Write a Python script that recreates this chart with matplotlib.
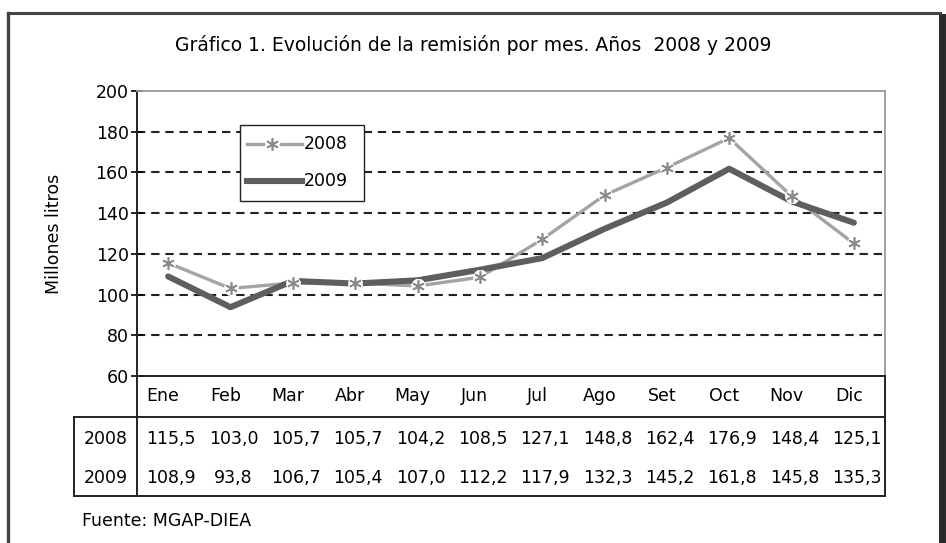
import matplotlib
matplotlib.use("Agg")
import matplotlib.pyplot as plt
from matplotlib.lines import Line2D
from matplotlib.patches import Rectangle
import matplotlib.transforms as mtransforms

plt.rcParams['font.family'] = ['DejaVu Sans']

months = ["Ene", "Feb", "Mar", "Abr", "May", "Jun", "Jul", "Ago", "Set", "Oct", "Nov", "Dic"]
v2008 = [115.5, 103.0, 105.7, 105.7, 104.2, 108.5, 127.1, 148.8, 162.4, 176.9, 148.4, 125.1]
v2009 = [108.9, 93.8, 106.7, 105.4, 107.0, 112.2, 117.9, 132.3, 145.2, 161.8, 145.8, 135.3]
series_names = ["2008", "2009"]
yticks = [60, 80, 100, 120, 140, 160, 180, 200]
title = "Gráfico 1. Evolución de la remisión por mes. Años  2008 y 2009"
ylabel = "Millones litros"
source = "Fuente: MGAP-DIEA"

W, H = 946, 543
fig = plt.figure(figsize=(W / 100, H / 100), dpi=100)

def fx(px):
    return px / W

def fy(py):
    return 1 - py / H

FS = 12.5

# plot area in pixels
L, R, T, B = 137, 885, 91, 376
ax = fig.add_axes([fx(L), fy(B), fx(R) - fx(L), fy(T) - fy(B)])
x = list(range(len(months)))
ax.set_xlim(-0.5, len(months) - 0.5)
ax.set_ylim(60, 200)
ax.set_yticks(yticks)
ax.set_yticklabels([str(v) for v in yticks], fontsize=FS)
ax.set_xticks([])
ax.tick_params(axis='y', direction='inout', length=8, width=1.2, pad=2)
for yv in yticks[1:-1]:
    ax.axhline(yv, color='#222222', lw=1.5, ls=(0, (4, 2.8)), zorder=1)
for side in ['top', 'right']:
    ax.spines[side].set_color('#999999')
    ax.spines[side].set_linewidth(1.3)
for side in ['left', 'bottom']:
    ax.spines[side].set_color('#222222')
    ax.spines[side].set_linewidth(1.4)
ax.set_ylabel(ylabel, fontsize=FS)
ax.yaxis.set_label_coords((63 - L) / (R - L), 0.5)

c2008 = '#a4a4a4'
c2009 = '#5e5e5e'
ax.plot(x, v2008, color=c2008, lw=2.4, zorder=3)
ax.plot(x, v2009, color=c2009, lw=4.4, solid_capstyle='round', zorder=4)
ax.plot(x, v2008, ls='none', marker=(6, 2, 0), ms=10, mec='white', mew=4.5, zorder=5)
ax.plot(x, v2008, ls='none', marker=(6, 2, 0), ms=9, mec='#8a8a8a', mew=1.2, zorder=6)

# legend
lx0, ly0, lx1, ly1 = 240, 125, 364, 201
fig.add_artist(Rectangle((fx(lx0), fy(ly1)), fx(lx1) - fx(lx0), fy(ly0) - fy(ly1),
                         transform=fig.transFigure, facecolor='white', edgecolor='#222222',
                         lw=1.0, zorder=10))
fig.add_artist(Line2D([fx(247), fx(302)], [fy(144), fy(144)], color=c2008, lw=2.4, zorder=11))
fig.add_artist(Line2D([fx(272)], [fy(144)], ls='none', marker=(6, 2, 0), ms=10, mec='white', mew=4.5, zorder=12))
fig.add_artist(Line2D([fx(272)], [fy(144)], ls='none', marker=(6, 2, 0), ms=9, mec='#8a8a8a', mew=1.2, zorder=13))
fig.add_artist(Line2D([fx(247), fx(302)], [fy(181), fy(181)], color=c2009, lw=4.4, zorder=11))
fig.text(fx(304), fy(144), series_names[0], fontsize=FS, va='center', ha='left', zorder=14)
fig.text(fx(304), fy(181), series_names[1], fontsize=FS, va='center', ha='left', zorder=14)

# title
fig.text(fx(473), fy(45), title, fontsize=13.5, ha='center', va='center')

# data table
blend = mtransforms.blended_transform_factory(ax.transData, fig.transFigure)
for i, m in enumerate(months):
    fig.text(i - 0.08, fy(396), m, transform=blend, ha='center', va='center', fontsize=FS)
    fig.text(i + 0.05, fy(439), f"{v2008[i]:.1f}".replace('.', ','), transform=blend,
             ha='center', va='center', fontsize=FS)
    fig.text(i + 0.05, fy(478), f"{v2009[i]:.1f}".replace('.', ','), transform=blend,
             ha='center', va='center', fontsize=FS)
fig.text(fx(106), fy(439), series_names[0], ha='center', va='center', fontsize=FS)
fig.text(fx(106), fy(478), series_names[1], ha='center', va='center', fontsize=FS)

lc = '#222222'
def seg(x0, y0, x1, y1, lw=1.4, color=lc):
    fig.add_artist(Line2D([fx(x0), fx(x1)], [fy(y0), fy(y1)], color=color, lw=lw,
                          solid_capstyle='projecting'))

seg(L, B, L, 496)
seg(R, B, R, 496)
seg(74, 417, R, 417)
seg(74, 496, R, 496)
seg(74, 417, 74, 496)

fig.text(fx(82), fy(521), source, fontsize=FS, ha='left', va='center')

# outer frame
seg(8, 13, 940, 13, lw=2.2, color='#444444')
seg(8, 13, 8, 545, lw=2.4, color='#444444')
fig.add_artist(Rectangle((fx(939), 0), fx(946) - fx(939), fy(14), transform=fig.transFigure,
                         facecolor='#2a2a2a', edgecolor='none'))

fig.savefig("out.png", dpi=100)
